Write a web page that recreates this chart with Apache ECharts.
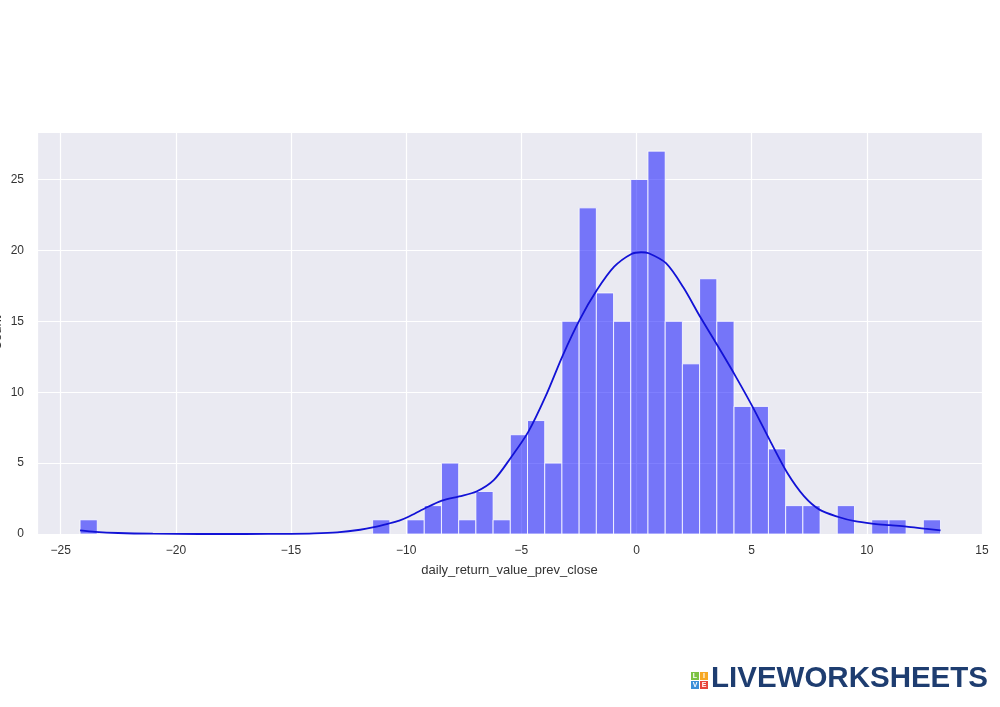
<!DOCTYPE html>
<html>
<head>
<meta charset="utf-8">
<script src="https://cdn.jsdelivr.net/npm/echarts@6/dist/echarts.min.js"></script>
<style>html,body{margin:0;padding:0;background:#fff}#c{width:1000px;height:707px}</style>
</head>
<body>
<div id="c"></div>
<script>
// Histogram: 50 bins of equal width starting at histMin
const histMin = -24.16;
const histBinWidth = 0.7472;
const counts = [1,0,0,0,0,0,0,0,0,0,
                0,0,0,0,0,0,0,1,0,1,
                2,5,1,3,1,7,8,5,15,23,
                17,15,25,27,15,12,18,15,9,9,
                6,2,2,0,2,0,1,1,0,1];
// KDE curve (x, count scale)
const kdeX = [-24.16,-23.5,-22.5,-21,-19,-17,-15,-14,-13,-12,-11.4,-10.8,-10.3,-9.9,-9.2,-8.45,-7.7,-6.95,-6.2,-5.45,-4.7,-3.95,-3.2,-2.47,-1.72,-0.97,-0.22,0.2,0.53,1.28,2.03,2.77,3.55,4.31,5.03,5.79,6.55,7.28,7.96,8.77,9.48,10.31,11.0,11.72,12.5,13.2];
const kdeY = [0.25,0.15,0.07,0.02,0.0,0.0,0.01,0.04,0.12,0.3,0.48,0.72,0.95,1.22,1.8,2.35,2.65,3.0,3.8,5.4,7.2,9.7,12.6,15.1,17.2,18.85,19.75,19.87,19.8,19.1,17.4,15.3,13.2,11.1,9.0,6.6,4.3,2.65,1.7,1.2,0.9,0.72,0.62,0.52,0.38,0.26];
const xTicks = [-25,-20,-15,-10,-5,0,5,10,15];
const yTicks = [0,5,10,15,20,25];

const histData = counts.map((c,i)=>[histMin+i*histBinWidth, histMin+(i+1)*histBinWidth, c]).filter(d=>d[2]>0);
const kdeData = kdeX.map((x,i)=>[x,kdeY[i]]);
const fmt = v => (v<0 ? '\u2212'+Math.abs(v) : String(v));

const chart = echarts.init(document.getElementById('c'));
const font = 'Liberation Sans, Arial, sans-serif';
chart.setOption({
  animation:false,
  backgroundColor:'#ffffff',
  grid:{left:37,right:18,top:132,bottom:173,backgroundColor:'#EAEAF2',show:true,borderWidth:0,
        containLabel:false,outerBoundsMode:'none'},
  xAxis:{type:'value',min:-26.03,max:15,splitNumber:8,
    name:'daily_return_value_prev_close',nameLocation:'middle',nameGap:30,
    nameTextStyle:{color:'#333',fontSize:13,fontFamily:font},
    axisLine:{show:false},axisTick:{show:false},
    axisLabel:{color:'#333',fontSize:12,fontFamily:font,margin:11,
      formatter:v=>xTicks.some(t=>Math.abs(t-v)<1e-6)?fmt(Math.round(v)):''},
    splitLine:{show:true,lineStyle:{color:'#ffffff',width:1.2}}},
  yAxis:{type:'value',min:0,max:28.35,interval:5,
    name:'Count',nameLocation:'middle',nameGap:33,nameMoveOverlap:false,
    nameTextStyle:{color:'#333',fontSize:13,fontFamily:font},
    axisLine:{show:false},axisTick:{show:false},
    axisLabel:{color:'#333',fontSize:12,fontFamily:font,margin:13,
      formatter:v=>yTicks.some(t=>Math.abs(t-v)<1e-6)?String(Math.round(v)):''},
    splitLine:{show:true,lineStyle:{color:'#ffffff',width:1.2}}},
  series:[
    {type:'custom',data:histData,encode:{x:[0,1],y:2},
     renderItem:(params,api)=>{
       const p0=api.coord([api.value(0),api.value(2)]);
       const p1=api.coord([api.value(1),0]);
       return {type:'rect',shape:{x:p0[0],y:p0[1],width:p1[0]-p0[0],height:p1[1]-p0[1]},
         style:{fill:'rgba(0,0,255,0.5)',stroke:'#ffffff',lineWidth:0.8}};
     }},
    {type:'line',data:kdeData,smooth:0.3,showSymbol:false,
     lineStyle:{color:'#1212d6',width:1.8},z:5}
  ],
  graphic:[
    {type:'rect',left:691,top:672,shape:{width:8,height:8},style:{fill:'#7dc243'}},
    {type:'rect',left:700,top:672,shape:{width:8,height:8},style:{fill:'#f7a823'}},
    {type:'rect',left:691,top:681,shape:{width:8,height:8},style:{fill:'#3a8fd9'}},
    {type:'rect',left:700,top:681,shape:{width:8,height:8},style:{fill:'#e8433b'}},
    {type:'text',x:695,y:676,style:{text:'L',fill:'#fff',font:'bold 7px Liberation Sans',align:'center',verticalAlign:'middle'}},
    {type:'text',x:704,y:676,style:{text:'I',fill:'#fff',font:'bold 7px Liberation Sans',align:'center',verticalAlign:'middle'}},
    {type:'text',x:695,y:685,style:{text:'V',fill:'#fff',font:'bold 7px Liberation Sans',align:'center',verticalAlign:'middle'}},
    {type:'text',x:704,y:685,style:{text:'E',fill:'#fff',font:'bold 7px Liberation Sans',align:'center',verticalAlign:'middle'}},
    {type:'text',x:711,y:694,style:{text:'LIVEWORKSHEETS',fill:'#1e3d70',font:'bold 29.5px Liberation Sans',align:'left',verticalAlign:'bottom'}}
  ]
});
</script>
</body>
</html>
